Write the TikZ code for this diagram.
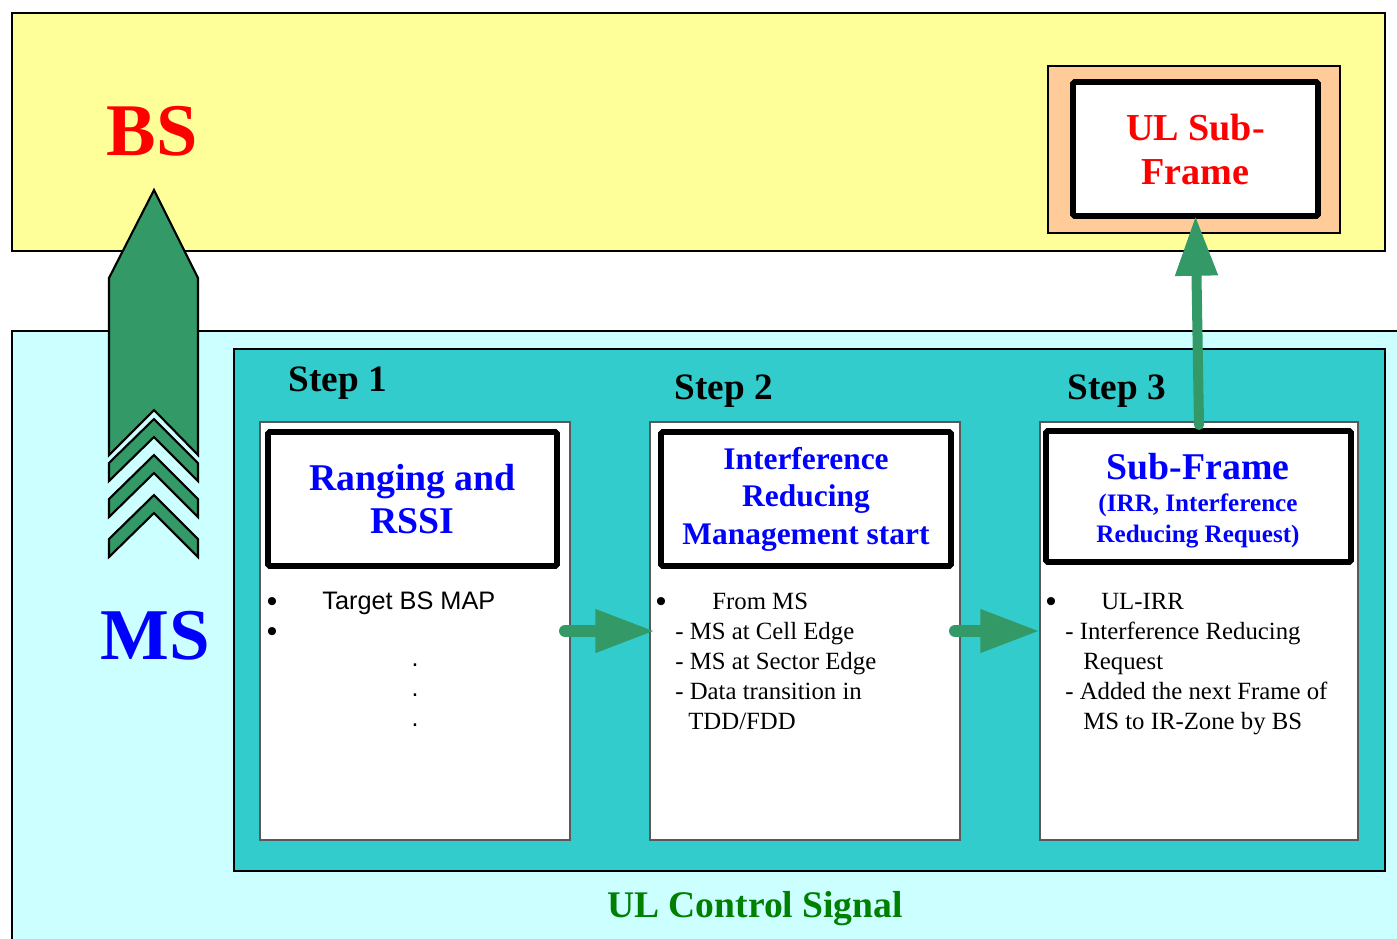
\documentclass[tikz,border=0pt]{standalone}
\usepackage{fontspec}
\setmainfont{Liberation Serif}
\newfontfamily\arial{Liberation Sans}
\usetikzlibrary{arrows.meta,calc}
\definecolor{bsyellow}{HTML}{FFFF99}
\definecolor{mscyan}{HTML}{CCFFFF}
\definecolor{tealbg}{HTML}{33CCCC}
\definecolor{orangebg}{HTML}{FFCC99}
\definecolor{arrowgreen}{HTML}{339966}
\definecolor{textblue}{HTML}{0000FF}
\definecolor{textred}{HTML}{FF0000}
\definecolor{textgreen}{HTML}{008000}
\tikzset{
  box/.style={rectangle, inner sep=0pt, outer sep=0pt},
  region/.style={box, draw=black, line width=1.1pt},
  panel/.style={box, fill=white, draw=black!65, line width=0.6pt},
  titlebox/.style={box, fill=white, draw=black, line width=3.3pt, rounded corners=1pt},
  bigtitle/.style={font=\bfseries\fontsize{21.5}{24.5}\selectfont, text=textblue, align=center},
  steplabel/.style={font=\bfseries\fontsize{21.2}{24}\selectfont, inner sep=0pt},
  body/.style={font=\fontsize{14.1}{17}\selectfont, anchor=base west, inner sep=0pt},
  armbody/.style={font=\arial\fontsize{14.4}{17}\selectfont, anchor=base west, inner sep=0pt},
  bul/.style={font=\arial\fontsize{17}{18}\selectfont, anchor=base, inner sep=0pt},
  flow/.style={line width=6.8pt, draw=arrowgreen, line cap=round, -{Triangle[length=34pt,width=23pt]}},
  flowup/.style={line width=5.7pt, draw=arrowgreen, line cap=round, -{Triangle[length=34pt,width=23pt]}},
  bigarrow/.style={fill=arrowgreen, draw=black, line width=1.2pt, line join=miter},
}
\newcommand\rbox[6]{\node[#1, minimum width={(#4-#2)*0.02cm}, minimum height={(#5-#3)*0.02cm}] (#6) at ({(#2+#4)/2},{(#3+#5)/2}) {};}
\begin{document}
\begin{tikzpicture}[x=0.02cm,y=-0.02cm]
\useasboundingbox (0,0) rectangle (1397,938);
\clip (0,0) rectangle (1397,938);
\fill[white] (0,0) rectangle (1397,938);
% regions
\rbox{region, fill=mscyan}{12}{331}{1430}{970}{msreg}
\rbox{region, fill=bsyellow}{12}{13}{1385}{251}{bsreg}
\node[font=\bfseries\fontsize{42.3}{46}\selectfont, text=textred] (bs) at (152,131) {BS};
\node[font=\bfseries\fontsize{41.5}{45}\selectfont, text=textblue] (ms) at (155,636) {MS};
% big arrow
\draw[bigarrow] (109,278) -- (154,190) -- (198,278) -- (198,455) -- (154,410) -- (109,455) -- cycle;
\draw[bigarrow] (109,463) -- (154,419) -- (198,463) -- (198,481) -- (154,437) -- (109,481) -- cycle;
\draw[bigarrow] (109,499) -- (154,455) -- (198,499) -- (198,517) -- (154,473) -- (109,517) -- cycle;
\draw[bigarrow] (109,539) -- (154,495) -- (198,539) -- (198,557) -- (154,513) -- (109,557) -- cycle;
% teal area
\rbox{region, fill=tealbg}{234}{349}{1385}{871}{teal}
\node[font=\bfseries\fontsize{21.4}{24}\selectfont, text=textgreen] (ulc) at (755,909) {UL Control Signal};
% UL sub-frame box
\rbox{region, fill=orangebg}{1048}{66}{1340}{233}{orange}
\node[titlebox, minimum width={245*0.02cm}, minimum height={134*0.02cm}, font=\bfseries\fontsize{21.7}{25}\selectfont, text=textred, align=center] (ul) at (1195.5,149) {UL Sub-\\Frame};
% panels
\rbox{panel}{260}{422}{570}{840}{p1}
\rbox{panel}{650}{422}{960}{840}{p2}
\rbox{panel}{1040}{422}{1358}{840}{p3}
\node[steplabel] (s1) at (338,383) {Step 1};
\node[steplabel] (s2) at (724,391) {Step 2};
\node[steplabel] (s3) at (1117,391) {Step 3};
% title boxes
\node[titlebox, minimum width={289*0.02cm}, minimum height={134*0.02cm}, bigtitle] (t1) at (412.5,499) {Ranging and\\RSSI};
\node[titlebox, minimum width={290*0.02cm}, minimum height={134*0.02cm}, bigtitle, font=\bfseries\fontsize{17.9}{21.3}\selectfont] (t2) at (806,499) {Interference\\Reducing\\Management start};
\node[titlebox, minimum width={305*0.02cm}, minimum height={131*0.02cm}] (t3) at (1198.5,496.5) {};
\node[font=\bfseries\fontsize{21.5}{24}\selectfont, text=textblue, inner sep=0pt] (t3a) at (1198,467) {Sub-Frame};
\node[font=\bfseries\fontsize{14.3}{17.6}\selectfont, text=textblue, align=center, inner sep=0pt] (t3b) at (1198,520.5) {(IRR, Interference\\Reducing Request)};
% body step 1
\node[bul] (b11) at (272,611) {•};
\node[armbody] (l11) at (322,609) {Target BS MAP};
\node[bul] (b12) at (272,641) {•};
\node[font=\arial\fontsize{14.2}{17}\selectfont, inner sep=0pt] (d1) at (415,665) {.};
\node[font=\arial\fontsize{14.2}{17}\selectfont, inner sep=0pt] (d2) at (415,695) {.};
\node[font=\arial\fontsize{14.2}{17}\selectfont, inner sep=0pt] (d3) at (415,725) {.};
% body step 2
\node[bul] (b21) at (661,611) {•};
\node[body] (l21) at (712,609) {From MS};
\node[body] (l22) at (675,639) {- MS at Cell Edge};
\node[body] (l23) at (675,669) {- MS at Sector Edge};
\node[body] (l24) at (675,699) {- Data transition in};
\node[body] (l25) at (688,729) {TDD/FDD};
% body step 3
\node[bul] (b31) at (1051,611) {•};
\node[body] (l31) at (1101,609) {UL-IRR};
\node[body] (l32) at (1065,639) {- Interference Reducing};
\node[body] (l33) at (1083,669) {Request};
\node[body] (l34) at (1065,699) {- Added the next Frame of};
\node[body] (l35) at (1083,729) {MS to IR-Zone by BS};
% connectors
\draw[flow] ($(p1.east)+(-5,0)$) -- ($(p2.west)+(5,0)$);
\draw[flow] ($(p2.east)+(-5,0)$) -- (p3.west);
\draw[flowup] ($(p3.north)+(0,3)$) -- (ul.south);
\end{tikzpicture}
\end{document}
